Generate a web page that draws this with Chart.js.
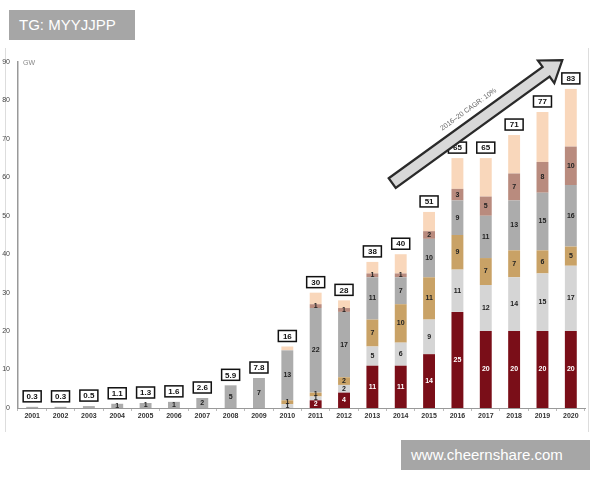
<!DOCTYPE html>
<html>
<head>
<meta charset="utf-8">
<script src="https://cdn.jsdelivr.net/npm/chart.js@4"></script>
<style>
  body { margin: 0; background: #fff; font-family: "Liberation Sans", Arial, sans-serif; }
  #wrap { position: absolute; left: 0; top: 0; width: 600px; height: 480px; }
  .frame { position: absolute; top: 48px; height: 384px; width: 1px; background: #ddd; }
  .tag { position: absolute; background: #a6a6a6; color: #fff; font-size: 15px; line-height: 30px; padding: 0 10px; }
</style>
</head>
<body>
<div class="frame" style="left:5px"></div>
<div class="frame" style="left:588px"></div>
<div id="wrap"><canvas id="chart" width="600" height="480"></canvas></div>
<div class="tag" style="left:9px; top:10px; width:106px;">TG: MYYJJPP</div>
<div class="tag" style="left:401px; top:440px; width:169px;">www.cheernshare.com</div>
<script>
const years = ['2001','2002','2003','2004','2005','2006','2007','2008','2009','2010',
               '2011','2012','2013','2014','2015','2016','2017','2018','2019','2020'];
const totals    = [0.3, 0.3, 0.5, 1.1, 1.3, 1.6, 2.6, 5.9, 7.8, 16, 30, 28, 38, 40, 51, 65, 65, 71, 77, 83];
const maroon    = [0, 0, 0, 0, 0, 0, 0, 0, 0, 0, 2, 4, 11, 11, 14, 25, 20, 20, 20, 20];
const lightGray = [0, 0, 0, 0, 0, 0, 0, 0, 0, 1, 1, 2, 5, 6, 9, 11, 12, 14, 15, 17];
const tan       = [0, 0, 0, 0, 0, 0, 0, 0, 0, 1, 1, 2, 7, 10, 11, 9, 7, 7, 6, 5];
const midGray   = [0.3, 0.3, 0.5, 1.1, 1.3, 1.6, 2.6, 5.9, 7.8, 13, 22, 17, 11, 7, 10, 9, 11, 13, 15, 16];
const rose      = [0, 0, 0, 0, 0, 0, 0, 0, 0, 0, 1, 1, 1, 1, 2, 3, 5, 7, 8, 10];
const peach     = [0, 0, 0, 0, 0, 0, 0, 0, 0, 1, 3, 2, 3, 5, 5, 8, 10, 10, 13, 15];
const yTicks = [0, 10, 20, 30, 40, 50, 60, 70, 80, 90];
const cagrText = '2016\u201320 CAGR: 10%';

const series = [
  { data: maroon, color: '#7a0e18', text: '#fff', label: true },
  { data: lightGray, color: '#d5d5d5', text: '#222', label: true },
  { data: tan, color: '#c9a266', text: '#222', label: true },
  { data: midGray, color: '#acacac', text: '#222', label: true },
  { data: rose, color: '#b98b7e', text: '#222', label: true },
  { data: peach, color: '#f9d7bb', text: '#222', label: false }
];

const labelsPlugin = {
  id: 'labels',
  afterDatasetsDraw(chart) {
    const ctx = chart.ctx;
    ctx.save();
    ctx.font = 'bold 7px "Liberation Sans", Arial, sans-serif';
    ctx.textAlign = 'center';
    ctx.textBaseline = 'middle';
    chart.data.datasets.forEach((ds, i) => {
      if (!series[i].label) return;
      const meta = chart.getDatasetMeta(i);
      meta.data.forEach((bar, j) => {
        const v = ds.data[j];
        if (v < 1) return;
        ctx.fillStyle = series[i].text;
        ctx.fillText(String(Math.floor(v)), bar.x, (bar.y + bar.base) / 2);
      });
    });
    // total boxes
    const x = chart.scales.x, y = chart.scales.y;
    ctx.font = 'bold 8px "Liberation Sans", Arial, sans-serif';
    totals.forEach((t, j) => {
      const cx = x.getPixelForValue(j);
      const top = y.getPixelForValue(t);
      const w = 18, h = 11;
      const by = top - 5 - h;
      ctx.fillStyle = '#fff';
      ctx.fillRect(cx - w / 2, by, w, h);
      ctx.strokeStyle = '#111';
      ctx.lineWidth = 1.5;
      ctx.strokeRect(cx - w / 2, by, w, h);
      ctx.fillStyle = '#111';
      ctx.fillText(String(t), cx, by + h / 2 + 0.5);
    });
    // unit label
    ctx.font = '7px "Liberation Sans", Arial, sans-serif';
    ctx.fillStyle = '#888';
    ctx.textAlign = 'left';
    ctx.fillText('GW', chart.chartArea.left + 5, y.getPixelForValue(90) + 1);
    ctx.restore();
  }
};

const arrowPlugin = {
  id: 'arrow',
  afterDraw(chart) {
    const x = chart.scales.x, y = chart.scales.y, ctx = chart.ctx;
    const x0 = x.getPixelForValue(12.7), y0 = y.getPixelForValue(58.5);
    const x1 = x.getPixelForValue(18.7), y1 = y.getPixelForValue(90.5);
    const ang = Math.atan2(y1 - y0, x1 - x0);
    const len = Math.hypot(x1 - x0, y1 - y0);
    const sw = 6, hw = 14, hl = 20;
    ctx.save();
    ctx.translate(x0, y0);
    ctx.rotate(ang);
    ctx.beginPath();
    ctx.moveTo(0, -sw);
    ctx.lineTo(len - hl, -sw);
    ctx.lineTo(len - hl, -hw);
    ctx.lineTo(len, 0);
    ctx.lineTo(len - hl, hw);
    ctx.lineTo(len - hl, sw);
    ctx.lineTo(0, sw);
    ctx.closePath();
    ctx.fillStyle = '#d8d8d8';
    ctx.fill();
    ctx.strokeStyle = '#2a2a2a';
    ctx.lineWidth = 2.2;
    ctx.stroke();
    ctx.font = '7px "Liberation Sans", Arial, sans-serif';
    ctx.fillStyle = '#666';
    ctx.textAlign = 'center';
    ctx.textBaseline = 'middle';
    ctx.fillText(cagrText, len * 0.5, -15);
    ctx.restore();
  }
};

new Chart(document.getElementById('chart'), {
  type: 'bar',
  data: {
    labels: years,
    datasets: series.map(s => ({
      data: s.data,
      backgroundColor: s.color,
      borderWidth: 0,
      barPercentage: 0.42,
      categoryPercentage: 1
    }))
  },
  options: {
    responsive: false,
    animation: false,
    layout: { padding: { top: 62, right: 15, bottom: 50, left: 0 } },
    plugins: { legend: { display: false }, tooltip: { enabled: false } },
    scales: {
      x: {
        stacked: true,
        afterFit: s => { s.height = 22; },
        grid: { display: true, drawOnChartArea: false, tickLength: 3, color: '#bbb' },
        border: { display: true, color: '#999', width: 1 },
        ticks: { color: '#333', font: { size: 7, family: '"Liberation Sans", Arial, sans-serif', weight: 'bold' }, padding: 1, maxRotation: 0, autoSkip: false }
      },
      y: {
        stacked: true,
        min: 0,
        max: 90,
        afterFit: s => { s.width = 18; },
        afterBuildTicks: s => { s.ticks = yTicks.map(v => ({ value: v })); },
        grid: { display: false },
        border: { display: true, color: '#999', width: 1.5 },
        ticks: { color: '#444', font: { size: 7, family: '"Liberation Sans", Arial, sans-serif' }, padding: 0 }
      }
    }
  },
  plugins: [labelsPlugin, arrowPlugin]
});
</script>
</body>
</html>
